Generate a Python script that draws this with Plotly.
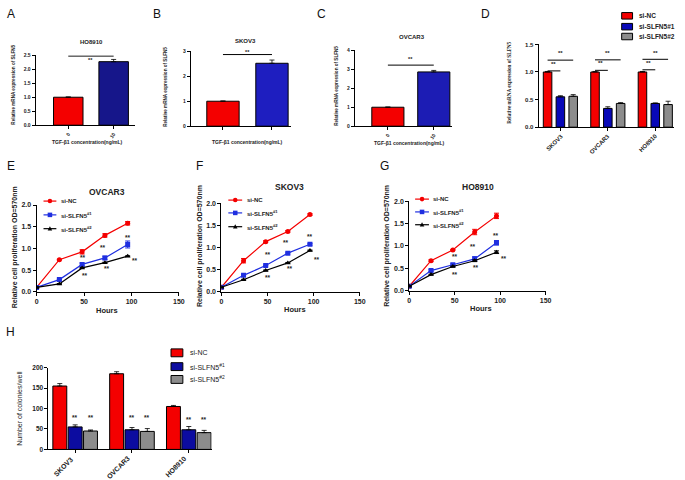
import plotly.graph_objects as go

W, H = 685, 480

# ---------------- data ----------------
A_cats = ["0", "10"]
A_vals = [1.0, 2.27]
A_err = [0.01, 0.08]
A_sig = 2.47
A_star = 2.33

B_cats = ["0", "10"]
B_vals = [1.0, 2.52]
B_err = [0.01, 0.13]
B_sig = 2.87
B_star = 3.16

C_cats = ["0", "10"]
C_vals = [1.0, 2.86]
C_err = [0.01, 0.08]
C_sig = 3.22
C_star = 3.55

groups = ["SKOV3", "OVCAR3", "HO8910"]
D_nc = [1.0, 1.0, 1.0]
D_nc_err = [0.01, 0.01, 0.01]
D_s1 = [0.55, 0.34, 0.43]
D_s1_err = [0.02, 0.03, 0.01]
D_s2 = [0.56, 0.43, 0.41]
D_s2_err = [0.03, 0.015, 0.06]
D_sig_short = [1.02, 1.03, 1.04]
D_sig_long = [1.215, 1.22, 1.23]
D_star_short = [1.14, 1.16, 1.16]
D_star_long = [1.34, 1.35, 1.35]

hours = [0, 24, 48, 72, 96]
E_nc = [0.1, 0.74, 0.92, 1.30, 1.58]
E_nc_err = [0.01, 0.01, 0.05, 0.04, 0.04]
E_s1 = [0.1, 0.28, 0.63, 0.78, 1.09]
E_s1_err = [0.01, 0.01, 0.03, 0.04, 0.08]
E_s2 = [0.1, 0.18, 0.55, 0.67, 0.82]
E_s2_err = [0.01, 0.01, 0.01, 0.01, 0.01]
E_star_x = [49, 51, 70, 74, 96, 104]
E_star_y = [0.78, 0.38, 1.01, 0.53, 1.24, 0.73]

F_nc = [0.1, 0.70, 1.13, 1.36, 1.74]
F_nc_err = [0.01, 0.05, 0.02, 0.02, 0.02]
F_s1 = [0.1, 0.37, 0.59, 0.87, 1.07]
F_s1_err = [0.01, 0.01, 0.01, 0.02, 0.02]
F_s2 = [0.1, 0.27, 0.48, 0.65, 0.93]
F_s2_err = [0.01, 0.01, 0.01, 0.01, 0.01]
F_star_x = [50, 50, 70, 74, 96, 104]
F_star_y = [0.85, 0.31, 1.10, 0.53, 1.24, 0.72]

G_nc = [0.1, 0.67, 0.91, 1.31, 1.67]
G_nc_err = [0.01, 0.02, 0.01, 0.06, 0.06]
G_s1 = [0.1, 0.45, 0.58, 0.71, 1.07]
G_s1_err = [0.01, 0.02, 0.02, 0.05, 0.05]
G_s2 = [0.1, 0.36, 0.54, 0.67, 0.86]
G_s2_err = [0.01, 0.01, 0.01, 0.02, 0.03]
G_star_x = [50, 50, 70, 74, 96, 104]
G_star_y = [0.76, 0.36, 0.99, 0.51, 1.23, 0.71]

H_nc = [155, 185, 105]
H_nc_err = [6, 5, 2.5]
H_s1 = [55, 48, 48]
H_s1_err = [5, 5.5, 8]
H_s2 = [45, 44, 41]
H_s2_err = [2.5, 7, 5.5]
H_star_s1 = [79, 77, 73]
H_star_s2 = [78, 77, 73]

series_names = ["si-NC", "si-SLFN5#1", "si-SLFN5#2"]
series_names_sup = ["si-NC", "si-SLFN5<sup>#1</sup>", "si-SLFN5<sup>#2</sup>"]

# ---------------- style ----------------
FONT = "Liberation Sans, Arial, sans-serif"
SERIF = "Liberation Serif, Times New Roman, serif"
TXT = "#222"
RED = "#f40000"
GRAY = "#8c8c8c"
NAVY_A = "#16168a"
BLUE_B = "#1e1ec0"
BLUE_C = "#1c1cb4"
BLUE_D = "#0808b8"
BLUE_H = "#0c0ca0"
BLUE_L = "#1f2fe0"


def dx(x0, x1):
    return [x0 / W, x1 / W]


def dy(top, bottom):
    return [1 - bottom / H, 1 - top / H]


def px(x):
    return x / W


def py(y):
    return 1 - y / H


fig = go.Figure()

ebar = dict(color="black", thickness=0.8, width=2.5)


def err_up(arr):
    return dict(type="data", array=arr, arrayminus=[0] * len(arr), symmetric=False, **ebar)


# A, B, C simple bars
for i, (cats, vals, err, col, w) in enumerate([
        (A_cats, A_vals, A_err, NAVY_A, 0.65),
        (B_cats, B_vals, B_err, BLUE_B, 0.66),
        (C_cats, C_vals, C_err, BLUE_C, 0.70)]):
    sfx = "" if i == 0 else str(i + 1)
    fig.add_trace(go.Bar(x=cats, y=vals, width=w, marker=dict(color=[RED, col], line=dict(color="black", width=1)),
                         error_y=err_up(err), xaxis="x" + sfx, yaxis="y" + sfx, showlegend=False))

# D grouped bars
d_off, d_w = 0.27, 0.18
for vals, err, col, name, k in [
        (D_nc, D_nc_err, RED, series_names[0], -1),
        (D_s1, D_s1_err, BLUE_D, series_names[1], 0),
        (D_s2, D_s2_err, GRAY, series_names[2], 1)]:
    fig.add_trace(go.Bar(x=groups, y=vals, width=d_w, offset=k * d_off - d_w / 2,
                         marker=dict(color=col, line=dict(color="black", width=1)),
                         error_y=err_up(err), name=name, xaxis="x4", yaxis="y4", showlegend=False))

# H grouped bars
h_off, h_w = 0.27, 0.245
for vals, err, col, name, k in [
        (H_nc, H_nc_err, RED, series_names[0], -1),
        (H_s1, H_s1_err, BLUE_H, series_names[1], 0),
        (H_s2, H_s2_err, GRAY, series_names[2], 1)]:
    fig.add_trace(go.Bar(x=groups, y=vals, width=h_w, offset=k * h_off - h_w / 2,
                         marker=dict(color=col, line=dict(color="black", width=1)),
                         error_y=err_up(err), name=name, xaxis="x8", yaxis="y8", showlegend=False))

# E, F, G lines
LINE_STYLES = [(RED, "circle"), (BLUE_L, "square"), ("black", "triangle-up")]
for ax, sets in [
        ("5", [(E_nc, E_nc_err), (E_s1, E_s1_err), (E_s2, E_s2_err)]),
        ("6", [(F_nc, F_nc_err), (F_s1, F_s1_err), (F_s2, F_s2_err)]),
        ("7", [(G_nc, G_nc_err), (G_s1, G_s1_err), (G_s2, G_s2_err)])]:
    for (vals, err), (col, sym), name in zip(sets, LINE_STYLES, series_names):
        fig.add_trace(go.Scatter(x=hours, y=vals, mode="lines+markers", name=name,
                                 line=dict(color=col, width=1.2),
                                 marker=dict(color=col, symbol=sym, size=5),
                                 error_y=dict(type="data", array=err, color=col, thickness=1, width=2.5),
                                 xaxis="x" + ax, yaxis="y" + ax, showlegend=False))

# ---------------- axes ----------------
def axstyle(size, **kw):
    d = dict(showline=True, linecolor="black", linewidth=1, ticks="outside", ticklen=3,
             tickwidth=1, tickcolor="black", showgrid=False, zeroline=False,
             tickfont=dict(family=FONT, size=size, color=TXT, weight="bold"))
    d.update(kw)
    return d


DOM = {
    "A": (dx(34, 135), dy(52, 123)),
    "B": (dx(191, 292), dy(48, 124)),
    "C": (dx(357, 455), dy(47, 124)),
    "D": (dx(543, 680), dy(41, 125)),
    "E": (dx(35, 179), dy(204, 292)),
    "F": (dx(222, 362), dy(202, 292)),
    "G": (dx(412, 550), dy(200, 291)),
    "H": (dx(47, 212), dy(369, 452)),
}

layout = dict(
    width=W, height=H, margin=dict(l=0, r=0, t=0, b=0), showlegend=False,
    paper_bgcolor="white", plot_bgcolor="rgba(0,0,0,0)", barmode="overlay",
    xaxis=axstyle(5, domain=DOM["A"][0], type="category", range=[-0.72, 1.48], tickangle=-55, anchor="y"),
    yaxis=axstyle(5, domain=DOM["A"][1], range=[0, 2.5], tickvals=[0, 0.5, 1, 1.5, 2, 2.5], tickformat=".1f", anchor="x"),
    xaxis2=axstyle(5, domain=DOM["B"][0], type="category", range=[-0.657, 1.38], showticklabels=False, anchor="y2"),
    yaxis2=axstyle(5, domain=DOM["B"][1], range=[0, 3], tickvals=[0, 1, 2, 3], anchor="x2"),
    xaxis3=axstyle(5, domain=DOM["C"][0], type="category", range=[-0.72, 1.39], tickangle=-55, anchor="y3"),
    yaxis3=axstyle(5, domain=DOM["C"][1], range=[0, 4], tickvals=[0, 1, 2, 3, 4], anchor="x3"),
    xaxis4=axstyle(6, domain=DOM["D"][0], type="category", range=[-0.458, 2.396], showticklabels=False, anchor="y4"),
    yaxis4=axstyle(6, domain=DOM["D"][1], range=[0, 1.5], tickvals=[0, 0.5, 1, 1.5], tickformat=".1f", anchor="x4"),
    xaxis5=axstyle(7, domain=DOM["E"][0], range=[0, 150], tickvals=[0, 50, 100, 150], anchor="y5"),
    yaxis5=axstyle(7, domain=DOM["E"][1], range=[0, 2], tickvals=[0, 0.5, 1, 1.5, 2], tickformat=".1f", anchor="x5"),
    xaxis6=axstyle(7, domain=DOM["F"][0], range=[0, 150], tickvals=[0, 50, 100, 150], anchor="y6"),
    yaxis6=axstyle(7, domain=DOM["F"][1], range=[0, 2], tickvals=[0, 0.5, 1, 1.5, 2], tickformat=".1f", anchor="x6"),
    xaxis7=axstyle(7, domain=DOM["G"][0], range=[0, 150], tickvals=[0, 50, 100, 150], anchor="y7"),
    yaxis7=axstyle(7, domain=DOM["G"][1], range=[0, 2], tickvals=[0, 0.5, 1, 1.5, 2], tickformat=".1f", anchor="x7"),
    xaxis8=axstyle(7, domain=DOM["H"][0], type="category", range=[-0.47, 2.40], showticklabels=False, anchor="y8"),
    yaxis8=axstyle(6.5, domain=DOM["H"][1], range=[0, 200], tickvals=[0, 50, 100, 150, 200], anchor="x8"),
)
fig.update_layout(**layout)

# ---------------- annotations ----------------
ann = []
shapes = []


def text(xp, yp, s, size, bold=True, angle=0, family=FONT, color=TXT, xanchor="center"):
    ann.append(dict(x=px(xp), y=py(yp), xref="paper", yref="paper", text=s, showarrow=False,
                    textangle=angle, xanchor=xanchor, yanchor="middle",
                    font=dict(family=family, size=size, color=color, weight="bold" if bold else "normal")))


# panel letters
for s, xp, yp in [("A", 9, 10), ("B", 157, 10), ("C", 323, 10), ("D", 489, 10),
                  ("E", 9, 164), ("F", 200, 164), ("G", 387, 164), ("H", 9, 333)]:
    text(xp, yp, s, 12, bold=False, color="#111")

# titles
text(91, 39, "HO8910", 6, True)
text(246, 38, "SKOV3", 6, True)
text(415, 33, "OVCAR3", 6, True)
text(106, 191, "OVCAR3", 8.5, True)
text(291, 186, "SKOV3", 8.5, True)
text(482, 186, "HO8910", 8.5, True)

# axis titles
tgf = "TGF-β1 concentration(ng/mL)"
text(87, 140, tgf, 5, True)
text(248, 140, tgf, 5, True)
text(412, 141, tgf, 5, True)
ylab = "Relative mRNA expression of SLFN5"
text(12, 82, ylab, 4.6, True, -90)
text(166, 84, ylab, 4.6, True, -90)
text(339, 83, ylab, 4.6, True, -90)
text(513, 80, ylab, 5.2, True, -90, family=SERIF)
prol = "Relative cell proliferation OD=570nm"
text(14, 247, prol, 7, True, -90)
text(201, 246, prol, 7, True, -90)
text(390, 245, prol, 7, True, -90)
text(106, 311, "Hours", 7.5, True)
text(296, 310, "Hours", 7.5, True)
text(485, 309, "Hours", 7.5, True)
text(17, 410, "Number of colonies/well", 7, False, -90)

# rotated category labels for D and H (placed on the category axis positions)
for g in groups:
    ann.append(dict(x=g, y=py(128), xref="x4", yref="paper", text=g, showarrow=False, textangle=-45,
                    xanchor="right", yanchor="top", xshift=6,
                    font=dict(family=FONT, size=6, color=TXT, weight="bold")))
    ann.append(dict(x=g, y=py(455), xref="x8", yref="paper", text=g, showarrow=False, textangle=-45,
                    xanchor="right", yanchor="top", xshift=2,
                    font=dict(family=FONT, size=7, color=TXT, weight="bold")))


def star(x, y, xr, yr, size=6):
    ann.append(dict(x=x, y=y, xref=xr, yref=yr, text="**", showarrow=False,
                    font=dict(family=FONT, size=size, color=TXT, weight="bold")))


def paper_y(key, yval, ymax):
    d0, d1 = DOM[key][1]
    return d0 + (d1 - d0) * yval / ymax


star(0.5, A_star, "x", "y", 5.5)
star(0.5, paper_y("B", B_star, 3), "x2", "paper", 5.5)
star(0.5, C_star, "x3", "y3", 5.5)
for i in range(3):
    star(i - d_off * 0.55, D_star_short[i], "x4", "y4", 6)
    star(i, D_star_long[i], "x4", "y4", 6)
    star(i, H_star_s1[i], "x8", "y8", 6.5)
    star(i + h_off, H_star_s2[i], "x8", "y8", 6.5)
for xs, ys, ax in [(E_star_x, E_star_y, "5"), (F_star_x, F_star_y, "6"), (G_star_x, G_star_y, "7")]:
    for x, y in zip(xs, ys):
        star(x, y, "x" + ax, "y" + ax, 6.5)


def hline(x0, x1, y, xr, yr):
    shapes.append(dict(type="line", x0=x0, x1=x1, y0=y, y1=y, xref=xr, yref=yr,
                       line=dict(color="black", width=1)))


hline(0, 1, A_sig, "x", "y")
hline(0, 1, B_sig, "x2", "y2")
hline(0, 1, C_sig, "x3", "y3")
for i in range(3):
    hline(i - d_off, i, D_sig_short[i], "x4", "y4")
    hline(i - d_off, i + d_off, D_sig_long[i], "x4", "y4")

# ---------------- legends (key swatches + labels) ----------------
def box_key(x0, x1, yc, hh, color):
    shapes.append(dict(type="rect", xref="paper", yref="paper", x0=px(x0), x1=px(x1),
                       y0=py(yc + hh), y1=py(yc - hh), fillcolor=color, line=dict(color="black", width=1)))


def line_key(x0, x1, yc, color, sym):
    shapes.append(dict(type="line", xref="paper", yref="paper", x0=px(x0), x1=px(x1), y0=py(yc), y1=py(yc),
                       line=dict(color=color, width=1.2)))
    xm, r = (x0 + x1) / 2, 2.3
    if sym == "circle":
        shapes.append(dict(type="circle", xref="paper", yref="paper", x0=px(xm - r), x1=px(xm + r),
                           y0=py(yc + r), y1=py(yc - r), fillcolor=color, line=dict(color=color, width=0)))
    elif sym == "square":
        shapes.append(dict(type="rect", xref="paper", yref="paper", x0=px(xm - r), x1=px(xm + r),
                           y0=py(yc + r), y1=py(yc - r), fillcolor=color, line=dict(color=color, width=0)))
    else:
        path = "M {} {} L {} {} L {} {} Z".format(px(xm - r), py(yc + r * 0.8), px(xm + r), py(yc + r * 0.8),
                                                  px(xm), py(yc - r * 1.1))
        shapes.append(dict(type="path", xref="paper", yref="paper", path=path, fillcolor=color,
                           line=dict(color=color, width=0)))


# D legend
for (yc, col, name) in zip([12, 23, 33], [RED, BLUE_D, GRAY], series_names):
    box_key(627, 638, yc, 3.3, col)
    text(642, yc, name, 6.5, True, xanchor="left")
# H legend
for (yc, col, name) in zip([354, 368, 381], [RED, BLUE_H, GRAY], series_names_sup):
    box_key(171, 183, yc, 4, col)
    text(188, yc, name, 7, False, xanchor="left")
# E, F, G legends
for (lx0, lx1, tx, ys) in [(42, 55, 58, [200, 214, 228]), (229, 243, 246, [199, 212, 226]),
                           (418, 432, 434, [198, 211, 224])]:
    for yc, (col, sym), name in zip(ys, LINE_STYLES, series_names_sup):
        line_key(lx0, lx1, yc, col, sym)
        text(tx, yc, name, 6, True, xanchor="left")

fig.update_layout(annotations=ann, shapes=shapes)
# the page body gets no default margin, so the 685x480 figure fills the window exactly
fig.write_html("out.html", config={"displayModeBar": False},
               post_script="document.body.style.margin='0px';")
